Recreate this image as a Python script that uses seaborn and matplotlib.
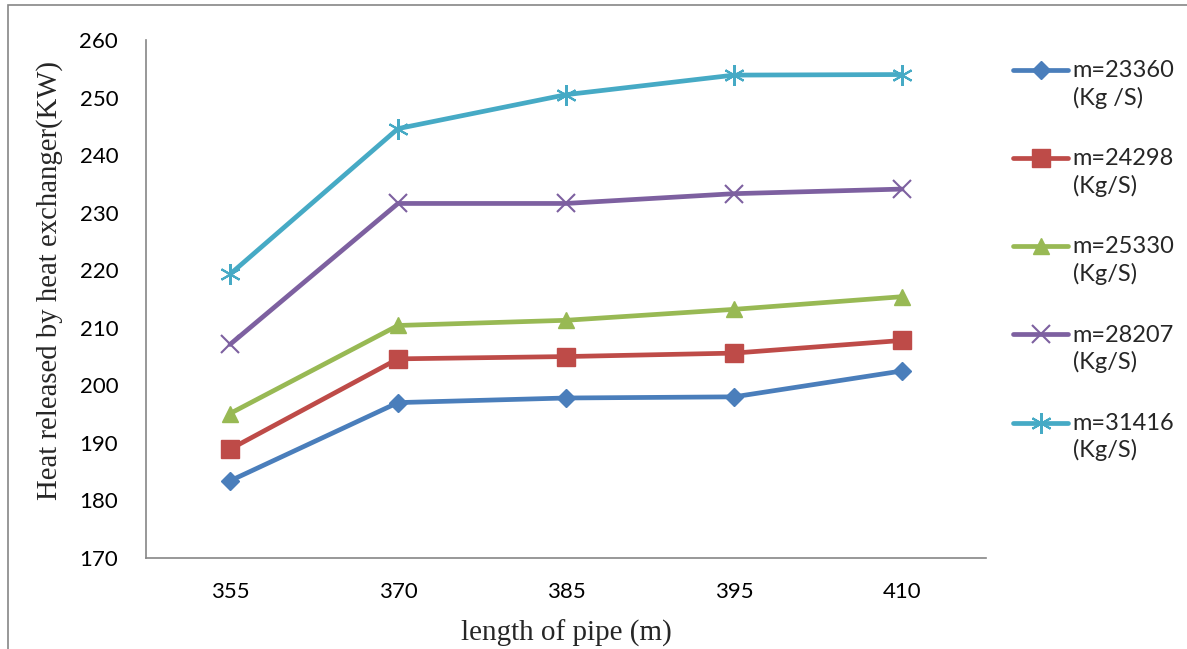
import matplotlib
matplotlib.use("Agg")
import matplotlib.pyplot as plt
from matplotlib.lines import Line2D
from matplotlib.patches import Rectangle
from matplotlib.legend_handler import HandlerLine2D
import numpy as np
import seaborn as sns
import pandas as pd

# ---- data ----
pipe_lengths = ["355", "370", "385", "395", "410"]
series_names = ["m=23360\n(Kg /S)", "m=24298\n(Kg/S)", "m=25330\n(Kg/S)",
                "m=28207\n(Kg/S)", "m=31416\n(Kg/S)"]
q_23360 = [183.4, 197.0, 197.8, 198.0, 202.5]
q_24298 = [188.9, 204.6, 205.0, 205.6, 207.8]
q_25330 = [195.1, 210.4, 211.3, 213.2, 215.4]
q_28207 = [207.1, 231.6, 231.6, 233.3, 234.1]
q_31416 = [219.3, 244.6, 250.5, 253.9, 254.0]
y_ticks = [170, 180, 190, 200, 210, 220, 230, 240, 250, 260]

values = [q_23360, q_24298, q_25330, q_28207, q_31416]
colors = ["#4A7EBB", "#BE4B48", "#98B954", "#7D60A0", "#46AAC5"]
markers = ["D", "s", "^", "x", (6, 2, 0)]
msizes = [9, 13, 12, 13, 15]
medge = [1.0, 1.0, 1.0, 1.5, 1.5]

sns.set_theme(style="white")
plt.rcParams["font.family"] = ["Lato", "DejaVu Sans"]

W, H = 1187, 649
fig = plt.figure(figsize=(W / 100, H / 100), dpi=100)
ax = fig.add_axes([146 / W, 1 - 558 / H, (986 - 146) / W, (558 - 40) / H])

handles = []
for name, vals, c, m, ms, me in zip(series_names, values, colors, markers, msizes, medge):
    df = pd.DataFrame({"length": pipe_lengths, "Q": vals})
    sns.lineplot(data=df, x="length", y="Q", ax=ax, color=c, linewidth=3.4,
                 marker=m, markersize=ms, markeredgecolor=c, markeredgewidth=me,
                 sort=False, legend=False)
    handles.append(Line2D([0], [0], color=c, linewidth=3.4, marker=m, markersize=ms,
                          markeredgecolor=c, markeredgewidth=me))

ax.set_xlim(-0.5, len(pipe_lengths) - 0.5)
ax.set_ylim(170, 260)
ax.set_yticks(y_ticks)
ax.set_xticks(range(len(pipe_lengths)))
ax.set_xticklabels(pipe_lengths)

for s in ["top", "right"]:
    ax.spines[s].set_visible(False)
for s in ["left", "bottom"]:
    ax.spines[s].set_color("#868686")
    ax.spines[s].set_linewidth(1.2)
ax.tick_params(axis="both", which="both", direction="out", length=6, width=1.2,
               color="#868686", labelsize=16, labelcolor="#000000")
ax.tick_params(axis="y", pad=14)
ax.tick_params(axis="x", pad=11)
ax.grid(False)

ax.set_xlabel("length of pipe (m)", family=["Liberation Serif"], fontsize=21, labelpad=13)
ax.set_ylabel("Heat released by heat exchanger(KW)", family=["Liberation Serif"],
              fontsize=20.7)
ax.yaxis.set_label_coords((63 - 146) / 840, (558 - 280) / 518)


class FirstLineHandler(HandlerLine2D):
    """Place the legend line next to the first line of a two-line label."""
    def __init__(self, shift, **kw):
        super().__init__(**kw)
        self.shift = shift

    def create_artists(self, legend, orig_handle, xdescent, ydescent, width,
                       height, fontsize, trans):
        arts = super().create_artists(legend, orig_handle, xdescent, ydescent,
                                      width, height, fontsize, trans)
        for a in arts:
            a.set_ydata(np.asarray(a.get_ydata(), dtype=float) + self.shift)
        return arts


leg_fs = 17
leg = fig.legend(handles, series_names, loc="upper left",
                 bbox_to_anchor=(1013 / W, 1 - 60 / H), frameon=False,
                 fontsize=leg_fs, handlelength=2.33, handletextpad=0.2,
                 labelspacing=1.68, borderpad=0, borderaxespad=0,
                 handler_map={Line2D: FirstLineHandler(shift=0.62 * leg_fs)})
for t in leg.get_texts():
    t.set_linespacing(1.3)

# outer frame
fig.patches.append(Rectangle((8 / W, -0.01), 1.0, 1 - 5 / H + 0.01,
                             transform=fig.transFigure, fill=False,
                             edgecolor="#868686", linewidth=1.2))

fig.savefig("out.png", dpi=100)
